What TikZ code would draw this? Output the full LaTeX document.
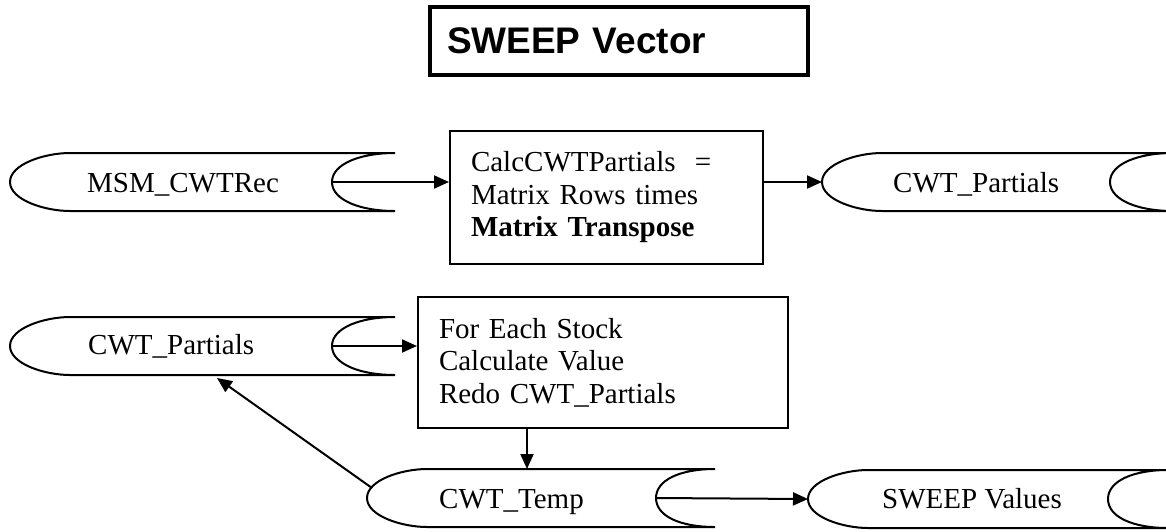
\documentclass[tikz,border=0pt]{standalone}
\usepackage{fontspec}
\setmainfont{Liberation Serif}
\newfontfamily\titlefont{Liberation Sans}
\usetikzlibrary{arrows.meta,calc}

\tikzset{
  storeline/.style={draw=black, line width=2pt},
  storelabel/.style={anchor=base west, inner sep=0pt, font=\fontsize{29}{32}\selectfont},
  procbox/.style={draw=black, line width=2pt, inner xsep=21pt, inner ysep=0pt,
    align=left, font=\fontsize{29}{32.5}\selectfont},
  titlebox/.style={draw=black, line width=4.5pt, inner xsep=17pt, inner ysep=0pt,
    align=left, font=\titlefont\bfseries\fontsize{37}{40}\selectfont},
  flow/.style={draw=black, line width=2pt, -{Triangle[length=15pt,width=13pt]}},
  % data store: rounded tip on the left, concave open end on the right
  % #1 = length from the tip to the open end, #2 = depth of the concave end
  pics/datastore/.style 2 args={code={
    \draw[storeline] (60,-29) -- (#1,-29)
      .. controls (#1-35,-29) and (#1-#2,-18) .. (#1-#2,0)
      .. controls (#1-#2,18) and (#1-35,29) .. (#1,29)
      -- (60,29)
      .. controls (35,29) and (0,18) .. (0,0)
      .. controls (0,-18) and (35,-29) .. (60,-29) -- cycle;
    \coordinate (-tip) at (0,0);
    \coordinate (-inner) at (#1-#2,0);
    \coordinate (-top) at (0,-29);
  }},
}

\begin{document}
\begin{tikzpicture}[x=1pt, y=-1pt]
  \useasboundingbox (0,0) rectangle (1166,531);
  \clip (0,0) rectangle (1166,531);

  % title
  \node[titlebox, minimum width=378pt, minimum height=68pt, text width=344pt]
    (title) at (619,41) {SWEEP Vector};

  % first row
  \pic (msm) at (10,182) {datastore={385}{63}};
  \node[storelabel] (msmlabel) at (87,192) {MSM\_CWTRec};

  \node[procbox, minimum height=133pt, text width=271pt]
    (calc) at (606.5,197.5)
    {CalcCWTPartials\ \ =\\ Matrix Rows times\\ \textbf{Matrix Transpose}};

  \pic (cwtp) at (822,182) {datastore={351}{63}};
  \node[storelabel] (cwtplabel) at (893,192) {CWT\_Partials};

  % second row
  \pic (cwtpl) at (10,346) {datastore={385}{63}};
  \node[storelabel] (cwtpllabel) at (88,354) {CWT\_Partials};

  \node[procbox, minimum height=131pt, text width=328pt]
    (loop) at (603,362.5)
    {For Each Stock\\ Calculate Value\\ Redo CWT\_Partials};

  % third row
  \pic (cwtt) at (367,498) {datastore={348}{59}};
  \node[storelabel] (cwttlabel) at (439,508) {CWT\_Temp};

  \pic (sweep) at (808,499) {datastore={360}{60}};
  \node[storelabel] (sweeplabel) at (882,508) {SWEEP Values};

  % connectors
  \draw[flow] (msm-inner) -- (msm-inner -| calc.west);
  \draw[flow] (calc.east |- cwtp-tip) -- (cwtp-tip);
  \draw[flow] (cwtpl-inner) -- (cwtpl-inner -| loop.west);
  \coordinate (drop) at ([xshift=110pt]loop.south west);
  \draw[flow] (drop) -- (drop |- cwtt-top);
  \draw[flow] (cwtt-inner) -- (sweep-tip);
  \coordinate (fbstart) at ($(cwtt-tip)+(5,-10)$);
  \coordinate (fbend) at ($(cwtpl-tip)+(207,32)$);
  \draw[flow] (fbstart) -- (fbend);
\end{tikzpicture}
\end{document}
